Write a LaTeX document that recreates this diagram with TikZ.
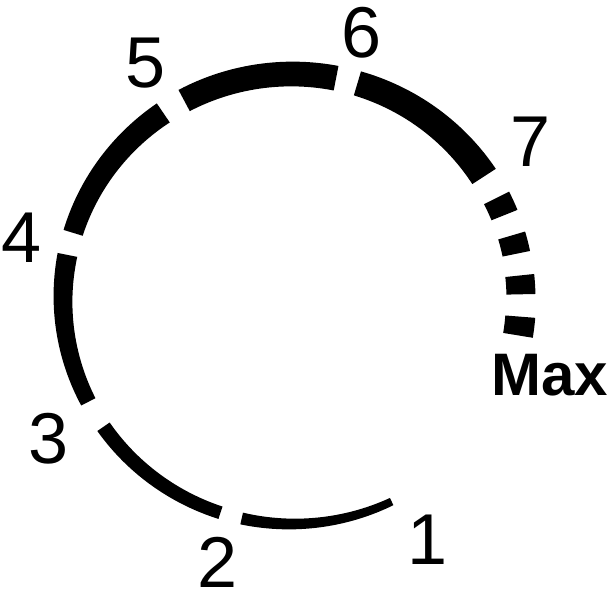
\documentclass[tikz,border=0pt]{standalone}
\usepackage{fontspec}
\setmainfont{Liberation Sans}
\newcommand{\taperseg}[4]{%
  \fill[segfill] plot[domain=#1:#2,samples=60,variable=\t]
    ({(229+0.5*(#3+(#4-(#3))*(\t-(#1))/((#2)-(#1))))*cos(\t)},
     {(225+0.5*(#3+(#4-(#3))*(\t-(#1))/((#2)-(#1))))*sin(\t)})
  -- plot[domain=#2:#1,samples=60,variable=\t]
    ({(229-0.5*(#3+(#4-(#3))*(\t-(#1))/((#2)-(#1))))*cos(\t)},
     {(225-0.5*(#3+(#4-(#3))*(\t-(#1))/((#2)-(#1))))*sin(\t)})
  -- cycle;}
\begin{document}
\begin{tikzpicture}[x=1pt,y=1pt,
  segfill/.style={black},
  numlabel/.style={inner sep=0pt,font=\fontsize{72}{80}\selectfont},
  maxlabel/.style={inner sep=0pt,font=\fontsize{60}{66}\selectfont\bfseries}]
\useasboundingbox (-292,-296) rectangle (321,299);
% arc segments, thickness growing clockwise
\taperseg{-64.2}{-102.7}{8}{12}
\taperseg{-108.2}{-145.4}{13}{15}
\taperseg{-152.8}{-191.3}{16}{20}
\taperseg{-197.1}{-235.8}{20}{23}
\taperseg{-241.9}{-281.1}{24}{25}
\taperseg{-286.6}{-327}{25}{28}
% dashes towards Max
\taperseg{26.7}{21.9}{28}{28}
\taperseg{16.4}{11.6}{28}{28}
\taperseg{6}{1.2}{29}{29}
\taperseg{-4.5}{-9.3}{30}{30}
% labels
\node[numlabel] (l1) at (136,-241) {1};
\node[numlabel] (l2) at (-74,-263) {2};
\node[numlabel] (l3) at (-243,-140) {3};
\node[numlabel] (l4) at (-270,61) {4};
\node[numlabel] (l5) at (-146,236) {5};
\node[numlabel] (l6) at (70,266) {6};
\node[numlabel] (l7) at (239,157) {7};
\node[maxlabel] (lmax) at (258,-76) {Max};
\end{tikzpicture}
\end{document}
